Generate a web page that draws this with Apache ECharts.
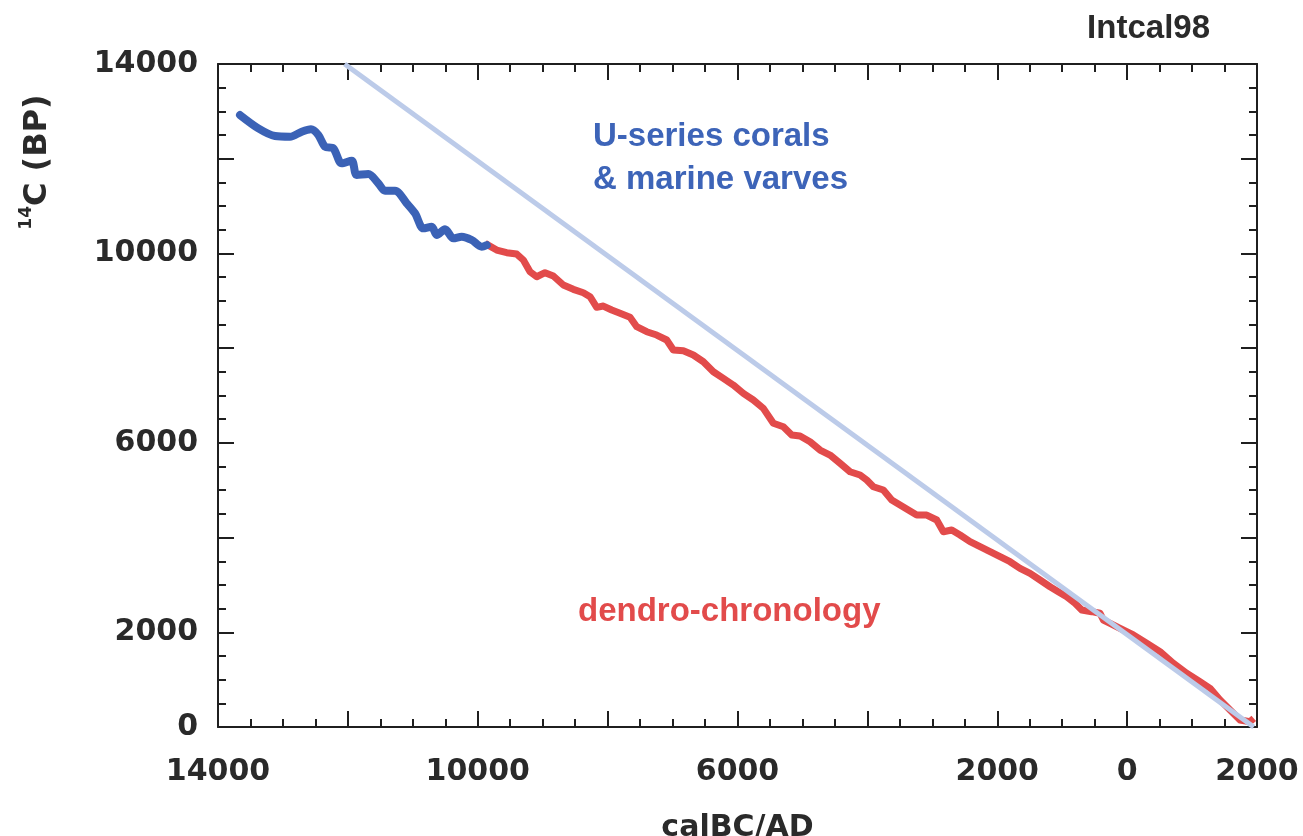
<!DOCTYPE html>
<html>
<head>
<meta charset="utf-8">
<title>Intcal98</title>
<script src="https://cdn.jsdelivr.net/npm/echarts@6/dist/echarts.min.js"></script>
<style>
	html, body { margin: 0; padding: 0; background: #fff; }
	#chart { width: 1303px; height: 836px; }
</style>
</head>
<body>
<div id="chart"></div>
<script>
// calendar year (negative = BC) and 14C age (BP)
var coralYear = [-13661, -13379, -13122, -12891, -12711, -12568, -12455, -12352, -12224, -12095, -11941, -11864, -11685, -11531, -11428, -11274, -11094, -10966, -10838, -10709, -10632, -10504, -10376, -10247, -10093, -9939, -9862];
var coralAge = [12922, 12642, 12479, 12464, 12570, 12620, 12500, 12253, 12219, 11903, 11958, 11655, 11677, 11480, 11324, 11324, 11058, 10847, 10530, 10564, 10389, 10509, 10319, 10353, 10283, 10142, 10177];

var dendroYear = [-9888, -9708, -9554, -9400, -9298, -9195, -9092, -8964, -8836, -8682, -8528, -8374, -8271, -8168, -8066, -7937, -7809, -7655, -7552, -7398, -7244, -7090, -6988, -6834, -6680, -6526, -6372, -6218, -6064, -5910, -5756, -5602, -5448, -5294, -5165, -5037, -4883, -4729, -4575, -4421, -4267, -4113, -4010, -3908, -3754, -3625, -3497, -3369, -3240, -3086, -2932, -2830, -2701, -2573, -2419, -2265, -2111, -1957, -1803, -1649, -1495, -1341, -1187, -1060, -930, -802, -699, -545, -417, -366, -263, -109, 96, 301, 507, 712, 917, 1122, 1277, 1431, 1585, 1739, 1893, 1950];
var dendroAge = [10213, 10072, 10015, 9987, 9861, 9614, 9508, 9593, 9523, 9333, 9242, 9170, 9086, 8862, 8889, 8805, 8735, 8651, 8452, 8347, 8277, 8172, 7960, 7946, 7855, 7713, 7502, 7363, 7221, 7046, 6905, 6729, 6413, 6341, 6166, 6144, 6024, 5849, 5743, 5568, 5391, 5321, 5215, 5074, 5004, 4793, 4688, 4582, 4476, 4476, 4371, 4124, 4160, 4054, 3913, 3807, 3702, 3596, 3490, 3351, 3245, 3104, 2962, 2857, 2751, 2612, 2470, 2435, 2401, 2259, 2190, 2084, 1943, 1767, 1590, 1345, 1134, 957, 817, 570, 359, 148, 112, 180];

// 1:1 line (14C age = calendar age BP)
var equalYear = [-12050, 1950];
var equalAge = [14000, 0];

// tick labels that are written out
var xTickLabels = [-14000, -10000, -6000, -2000, 0, 2000];
var yTickLabels = [0, 2000, 6000, 10000, 14000];

function pairs(xs, ys) {
	var out = [];
	for (var i = 0; i < xs.length; i++) {
		out.push([xs[i], ys[i]]);
	}
	return out;
}

var axisColor = '#1f1f1f';
var textColor = '#2a2a2a';
var numFont = 'DejaVu Sans';
var txtFont = 'Liberation Sans';

function boxAxis(opts) {
	var a = {
		type: 'value',
		min: opts.min,
		max: opts.max,
		interval: 2000,
		position: opts.position,
		axisLine: { show: true, onZero: false, lineStyle: { color: axisColor, width: 2 } },
		axisTick: { show: true, inside: true, length: 16, lineStyle: { color: axisColor, width: 2 } },
		minorTick: { show: true, splitNumber: 4, length: 8, lineStyle: { color: axisColor, width: 2 } },
		splitLine: { show: false },
		minorSplitLine: { show: false },
		axisLabel: { show: false }
	};
	if (opts.labels) {
		a.axisLabel = {
			show: true,
			margin: opts.margin,
			color: textColor,
			fontFamily: numFont,
			fontWeight: 'bold',
			fontSize: 30,
			formatter: function (v) {
				return opts.labels.indexOf(v) >= 0 ? String(Math.abs(v)) : '';
			}
		};
	}
	return a;
}

var xBottom = boxAxis({ min: -14000, max: 2000, position: 'bottom', labels: xTickLabels, margin: 30 });
xBottom.name = 'calBC/AD';
xBottom.nameLocation = 'middle';
xBottom.nameGap = 86;
xBottom.nameTextStyle = { color: textColor, fontFamily: numFont, fontWeight: 'bold', fontSize: 30 };

var yLeft = boxAxis({ min: 0, max: 14000, position: 'left', labels: yTickLabels, margin: 20 });

var xTop = boxAxis({ min: -14000, max: 2000, position: 'top' });
var yRight = boxAxis({ min: 0, max: 14000, position: 'right' });

var myChart = echarts.init(document.getElementById('chart'));

myChart.setOption({
	animation: false,
	backgroundColor: '#ffffff',
	title: {
		text: 'Intcal98',
		right: 88,
		top: 7,
		textStyle: { color: textColor, fontFamily: txtFont, fontWeight: 'bold', fontSize: 33 }
	},
	grid: { left: 218, right: 46, top: 64, bottom: 109, outerBoundsMode: 'none' },
	xAxis: [xBottom, xTop],
	yAxis: [yLeft, yRight],
	series: [
		{
			name: 'dendro-chronology',
			type: 'line',
			xAxisIndex: 0,
			yAxisIndex: 0,
			data: pairs(dendroYear, dendroAge),
			symbol: 'none',
			lineStyle: { color: '#e24b4b', width: 7, join: 'round' },
			z: 3
		},
		{
			name: 'U-series corals & marine varves',
			type: 'line',
			xAxisIndex: 0,
			yAxisIndex: 0,
			data: pairs(coralYear, coralAge),
			symbol: 'none',
			smooth: 0.3,
			lineStyle: { color: '#3b62b6', width: 8, cap: 'round', join: 'round' },
			z: 4
		},
		{
			name: '1:1',
			type: 'line',
			xAxisIndex: 0,
			yAxisIndex: 0,
			data: pairs(equalYear, equalAge),
			symbol: 'none',
			lineStyle: { color: '#bccbe9', width: 5 },
			z: 5
		}
	],
	graphic: [
		// y axis title, written bottom to top near the top of the axis
		{
			type: 'text',
			x: 38,
			y: 162,
			rotation: Math.PI / 2,
			style: {
				text: '{sup|14}{main|C (BP)}',
				align: 'center',
				verticalAlign: 'middle',
				fill: textColor,
				rich: {
					sup: { fontFamily: numFont, fontWeight: 'bold', fontSize: 17, lineHeight: 17, verticalAlign: 'top', fill: textColor },
					main: { fontFamily: numFont, fontWeight: 'bold', fontSize: 32, lineHeight: 40, fill: textColor }
				}
			}
		},
		{
			type: 'text',
			x: 593,
			y: 158,
			style: {
				text: 'U-series corals\n& marine varves',
				font: 'bold 33px "Liberation Sans"',
				fill: '#3d64b8',
				lineHeight: 43,
				verticalAlign: 'middle'
			}
		},
		{
			type: 'text',
			x: 578,
			y: 612,
			style: {
				text: 'dendro-chronology',
				font: 'bold 33px "Liberation Sans"',
				fill: '#e24b4b',
				verticalAlign: 'middle'
			}
		}
	]
});
</script>
</body>
</html>
